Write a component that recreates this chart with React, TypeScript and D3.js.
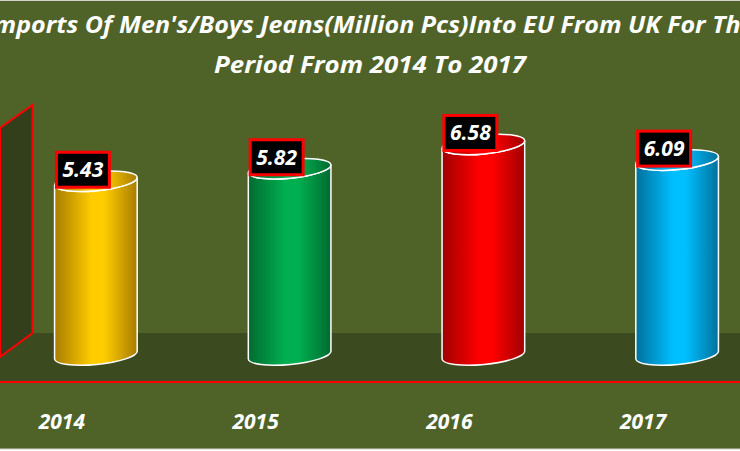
import React from 'react';
import * as d3 from 'd3';

const titleLines = [
  "Imports Of Men's/Boys Jeans(Million Pcs)Into EU From UK For The",
  'Period From 2014 To 2017',
];
const years = ['2014', '2015', '2016', '2017'];
const values = [5.43, 5.82, 6.58, 6.09];
const barLight = ['#ffcc00', '#00b050', '#ff0000', '#00bfff'];
const barDark = ['#a87c00', '#006b30', '#a00000', '#00719c'];

export default function App() {
  const W = 740;
  const H = 451;
  const x = d3.scaleBand<string>().domain(years).range([-1, 774]).padding(0);
  const y = d3.scaleLinear().domain([0, 7]).range([355, 131]);
  const rx = 41.5;
  const ry = 9.5;
  const rot = -5.5;
  const th = (rot * Math.PI) / 180;
  const dx = rx * Math.cos(th);
  const dy = rx * Math.sin(th);
  const font = "'Open Sans', Lato, sans-serif";

  const wallX = 32.5;
  const wallTop = 105;
  const floorBack = 333;
  const floorFront = 382;
  const titleLen = [769, 312];

  return (
    <svg
      width={W}
      height={H}
      style={{ position: 'absolute', left: 0, top: 0, display: 'block' }}
    >
      <defs>
        {years.map((yr, i) => (
          <linearGradient key={yr} id={`g${i}`} x1="0" y1="0" x2="1" y2="0">
            <stop offset="0%" stopColor={barDark[i]} />
            <stop offset="45%" stopColor={barLight[i]} />
            <stop offset="60%" stopColor={barLight[i]} />
            <stop offset="100%" stopColor={barDark[i]} />
          </linearGradient>
        ))}
      </defs>
      <rect x={0} y={0} width={W} height={H} fill="#ffffff" />
      <rect x={-2} y={0.5} width={W + 4} height={448.5} fill="#4f6228" stroke="#d0d0d0" strokeWidth={1} />

      {/* floor */}
      <polygon
        points={`${wallX},${floorBack} ${W},${floorBack} ${W},${floorFront} 0,${floorFront} 0,357`}
        fill="#3c4a1f"
      />
      {/* wall */}
      <polygon
        points={`${wallX},${wallTop} ${wallX},${floorBack} 0,357 0,128`}
        fill="#333f1a"
        stroke="#ff0000"
        strokeWidth={2}
      />
      <line x1={0} x2={W} y1={floorFront} y2={floorFront} stroke="#ff0000" strokeWidth={2} />

      {/* title */}
      {titleLines.map((t, i) => (
        <text
          key={i}
          x={370}
          y={i === 0 ? 33 : 73}
          textAnchor="middle"
          fill="#ffffff"
          fontFamily={font}
          fontWeight="bold"
          fontStyle="italic"
          fontSize={23}
          textLength={titleLen[i]}
          lengthAdjust="spacingAndGlyphs"
        >
          {t}
        </text>
      ))}

      {/* cylinders */}
      {years.map((yr, i) => {
        const cx = (x(yr) as number) + x.bandwidth() / 2;
        const cb = y(0);
        const ct = y(values[i]);
        const body = `M${cx - dx},${ct - dy} L${cx - dx},${cb - dy} A${rx},${ry} ${rot} 0 0 ${cx + dx},${cb + dy} L${cx + dx},${ct + dy} A${rx},${ry} ${rot} 0 1 ${cx - dx},${ct - dy} Z`;
        return (
          <g key={yr}>
            <path d={body} fill={`url(#g${i})`} stroke="#ffffff" strokeWidth={1.5} />
            <ellipse
              cx={cx}
              cy={ct}
              rx={rx}
              ry={ry}
              transform={`rotate(${rot} ${cx} ${ct})`}
              fill={`url(#g${i})`}
              stroke="#ffffff"
              strokeWidth={1.5}
            />
          </g>
        );
      })}

      {/* value labels */}
      {years.map((yr, i) => {
        const cx = (x(yr) as number) + x.bandwidth() / 2;
        const ct = y(values[i]);
        const bx = cx - 39.5;
        const by = ct + 6 - 35;
        return (
          <g key={yr}>
            <rect x={bx} y={by} width={53} height={35} fill="#000000" stroke="#ff0000" strokeWidth={3} />
            <text
              x={bx + 26.5}
              y={by + 25}
              textAnchor="middle"
              fill="#ffffff"
              fontFamily={font}
              fontWeight="bold"
              fontStyle="italic"
              fontSize={21}
            >
              {values[i].toFixed(2)}
            </text>
          </g>
        );
      })}

      {/* category labels */}
      {years.map((yr) => {
        const cx = (x(yr) as number) + x.bandwidth() / 2;
        return (
          <text
            key={yr}
            x={cx - 34}
            y={429}
            textAnchor="middle"
            fill="#ffffff"
            fontFamily={font}
            fontWeight="bold"
            fontStyle="italic"
            fontSize={21}
          >
            {yr}
          </text>
        );
      })}
    </svg>
  );
}
